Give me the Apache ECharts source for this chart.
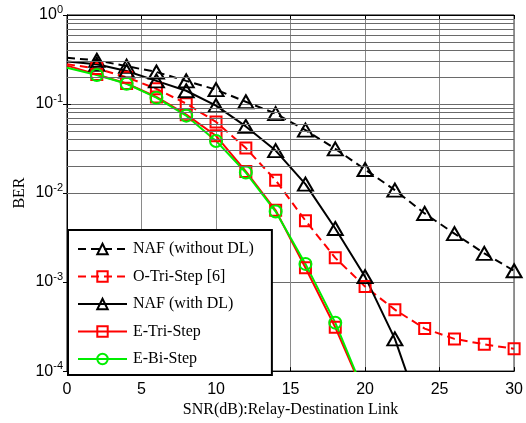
<!DOCTYPE html>
<html>
<head>
<meta charset="utf-8">
<script src="https://cdn.jsdelivr.net/npm/echarts@6/dist/echarts.min.js"></script>
<style>
  html, body { margin: 0; padding: 0; background: #fff; }
  #chart { width: 526px; height: 423px; }
</style>
</head>
<body>
<div id="chart"></div>
<script>
// SNR (dB) sample points
const snr = [0, 2, 4, 6, 8, 10, 12, 14, 16, 18, 20, 22, 24, 26, 28, 30]

// BER
const nafNoDL = [0.33, 0.31, 0.266, 0.229, 0.182, 0.145, 0.106, 0.078, 0.051, 0.0314, 0.0184, 0.0108, 0.0059, 0.0035, 0.0021, 0.00134]
const oTriStep = [0.28, 0.25, 0.2, 0.148, 0.101, 0.063, 0.032, 0.0139, 0.0049, 0.00187, 0.00089, 0.00049, 0.0003, 0.00023, 0.0002, 0.000178]
const nafDL = [0.30, 0.28, 0.235, 0.182, 0.141, 0.096, 0.056, 0.030, 0.0126, 0.004, 0.00115, 0.00023, 0.000025]
const eTriStep = [0.27, 0.215, 0.17, 0.12, 0.076, 0.044, 0.0175, 0.0064, 0.00145, 0.00031, 0.000053]
const eBiStep = [0.255, 0.212, 0.169, 0.118, 0.074, 0.0385, 0.017, 0.0062, 0.0016, 0.00035, 0.000054]

// minor log grid values (2..9 per decade)
const minorGrid = []
for (let e = -4; e < 0; e++) {
  for (let m = 2; m <= 9; m++) minorGrid.push(m * Math.pow(10, e))
}

const serif = 'Liberation Serif'
const sans = 'Liberation Sans'

// no marker on the 0 dB point
const toData = (vals) => vals.map((v, i) => (i === 0 ? { value: [snr[i], v], symbol: 'none' } : [snr[i], v]))

const mkSeries = (name, vals, color, dashed, symbol, size) => ({
  name,
  type: 'line',
  data: toData(vals),
  symbol,
  symbolSize: size,
  showAllSymbol: true,
  clip: true,
  z: 3,
  lineStyle: { color, width: 2, type: dashed ? [8, 5] : 'solid' },
  itemStyle: { color: 'rgba(0,0,0,0)', borderColor: color, borderWidth: 2 },
  emphasis: { disabled: true }
})

const chart = echarts.init(document.getElementById('chart'))

chart.setOption({
  animation: false,
  backgroundColor: '#fff',
  grid: { left: 67, right: 5, top: 15, bottom: 48, show: true, borderColor: '#000', borderWidth: 1 },
  legend: {
    data: ['NAF (without DL)', 'O-Tri-Step [6]', 'NAF (with DL)', 'E-Tri-Step', 'E-Bi-Step'],
    orient: 'vertical',
    left: 68,
    top: 230,
    itemWidth: 49,
    itemHeight: 13,
    itemGap: 11.5,
    padding: [11, 18, 8, 9],
    backgroundColor: '#fff',
    borderColor: '#000',
    borderWidth: 2,
    textStyle: { fontFamily: serif, fontSize: 16, color: '#000', padding: [0, 0, 0, 1] },
    selectedMode: false
  },
  xAxis: [
    {
      type: 'value',
      min: 0,
      max: 30,
      interval: 5,
      name: 'SNR(dB):Relay-Destination Link',
      nameLocation: 'middle',
      nameGap: 29,
      nameTextStyle: { fontFamily: serif, fontSize: 16, color: '#000' },
      axisLine: { show: true, lineStyle: { color: '#000', width: 1 } },
      axisTick: { show: true, inside: true, length: 4, lineStyle: { color: '#000' } },
      axisLabel: { fontFamily: sans, fontSize: 16, color: '#000', margin: 10 },
      splitLine: { show: true, lineStyle: { color: '#8a8a8a', width: 1 } }
    },
    {
      type: 'value',
      position: 'top',
      min: 0,
      max: 30,
      interval: 5,
      axisLine: { show: true, lineStyle: { color: '#000', width: 1 } },
      axisTick: { show: true, inside: true, length: 4, lineStyle: { color: '#000' } },
      axisLabel: { show: false },
      splitLine: { show: false }
    }
  ],
  yAxis: [
    {
      type: 'log',
      logBase: 10,
      min: 1e-4,
      max: 1,
      name: 'BER',
      nameLocation: 'middle',
      nameGap: 39,
      nameMoveOverlap: false,
      nameTextStyle: { fontFamily: serif, fontSize: 16, color: '#000' },
      axisLine: { show: true, lineStyle: { color: '#000', width: 1 } },
      axisTick: { show: true, inside: true, length: 4, lineStyle: { color: '#000' } },
      axisLabel: {
        margin: 4,
        formatter: (v) => '{b|10}{s|' + Math.round(Math.log10(v)) + '}',
        rich: {
          b: { fontFamily: sans, fontSize: 16, color: '#000' },
          s: { fontFamily: sans, fontSize: 11, color: '#000', padding: [0, 0, 11, 0] }
        }
      },
      splitLine: { show: true, lineStyle: { color: '#6a6a6a', width: 1 } }
    },
    {
      type: 'log',
      logBase: 10,
      min: 1e-4,
      max: 1,
      position: 'right',
      axisLine: { show: true, lineStyle: { color: '#000', width: 1 } },
      axisTick: { show: true, inside: true, length: 4, lineStyle: { color: '#000' } },
      axisLabel: { show: false },
      splitLine: { show: false }
    }
  ],
  series: [
    {
      name: 'minor-grid',
      type: 'line',
      data: [],
      z: 1,
      silent: true,
      markLine: {
        silent: true,
        symbol: 'none',
        label: { show: false },
        animation: false,
        lineStyle: { color: '#6a6a6a', width: 1, type: 'solid' },
        emphasis: { disabled: true },
        data: minorGrid.map((v) => ({ yAxis: v }))
      }
    },
    mkSeries('NAF (without DL)', nafNoDL, '#000', true, 'triangle', [15, 13]),
    mkSeries('O-Tri-Step [6]', oTriStep, '#ff0000', true, 'rect', 11),
    mkSeries('NAF (with DL)', nafDL, '#000', false, 'triangle', [15, 13]),
    mkSeries('E-Tri-Step', eTriStep, '#ff0000', false, 'rect', 11),
    mkSeries('E-Bi-Step', eBiStep, '#00ee00', false, 'circle', 12)
  ]
})
</script>
</body>
</html>
